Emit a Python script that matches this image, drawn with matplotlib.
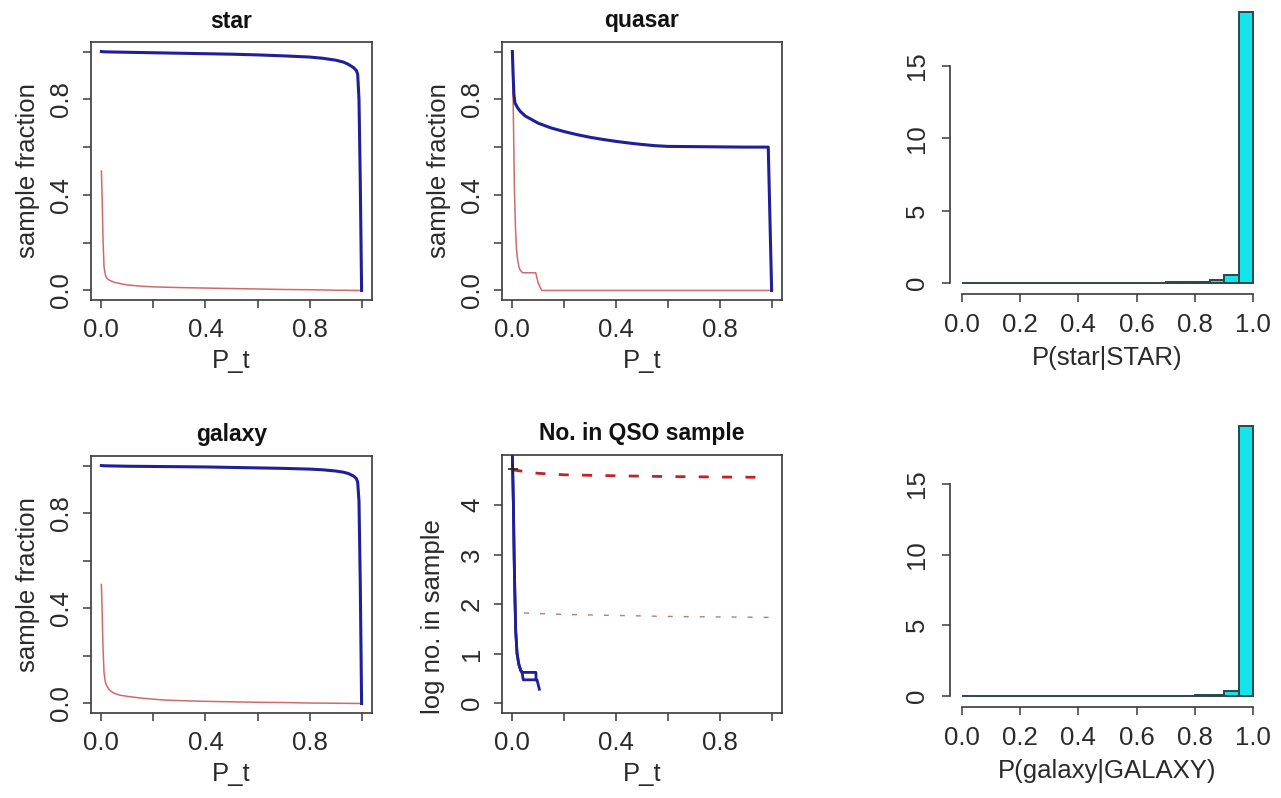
import numpy as np
import matplotlib
matplotlib.use("Agg")
import matplotlib.pyplot as plt

plt.rcParams['font.family'] = ['Liberation Sans', 'DejaVu Sans']

# ---------------- data ----------------
star_x_blue = [0.0, 0.01, 0.05, 0.1, 0.2, 0.3, 0.4, 0.5, 0.6, 0.7, 0.8, 0.85, 0.9, 0.93, 0.95, 0.97, 0.98, 0.985, 0.99, 0.995, 1.0]
star_blue = [1.0, 0.999, 0.998, 0.997, 0.995, 0.993, 0.991, 0.989, 0.986, 0.982, 0.977, 0.972, 0.964, 0.956, 0.946, 0.932, 0.92, 0.905, 0.8, 0.45, 0.0]
star_x_red = [0.0, 0.003, 0.006, 0.01, 0.015, 0.02, 0.03, 0.05, 0.08, 0.1, 0.15, 0.2, 0.3, 0.4, 0.5, 0.6, 0.7, 0.8, 0.9, 1.0]
star_red = [0.5, 0.38, 0.22, 0.1, 0.065, 0.052, 0.043, 0.034, 0.027, 0.023, 0.018, 0.015, 0.012, 0.01, 0.008, 0.006, 0.004, 0.003, 0.001, 0.0]

quasar_x_blue = [0.0, 0.003, 0.006, 0.01, 0.02, 0.03, 0.05, 0.08, 0.1, 0.15, 0.2, 0.25, 0.3, 0.35, 0.4, 0.45, 0.5, 0.55, 0.6, 0.7, 0.8, 0.9, 0.987, 1.0]
quasar_blue = [1.0, 0.9, 0.82, 0.785, 0.765, 0.75, 0.73, 0.712, 0.70, 0.68, 0.665, 0.652, 0.641, 0.632, 0.624, 0.617, 0.611, 0.606, 0.603, 0.602, 0.601, 0.600, 0.600, 0.0]
quasar_x_red = [0.0, 0.004, 0.008, 0.012, 0.016, 0.02, 0.025, 0.03, 0.04, 0.06, 0.09, 0.1, 0.113, 0.2, 0.5, 1.0]
quasar_red = [1.0, 0.72, 0.42, 0.26, 0.17, 0.13, 0.1, 0.085, 0.074, 0.074, 0.074, 0.03, 0.0, 0.0, 0.0, 0.0]

galaxy_x_blue = [0.0, 0.01, 0.05, 0.1, 0.2, 0.3, 0.4, 0.5, 0.6, 0.7, 0.8, 0.85, 0.9, 0.93, 0.95, 0.97, 0.98, 0.985, 0.99, 0.995, 1.0]
galaxy_blue = [1.0, 0.999, 0.998, 0.997, 0.996, 0.995, 0.994, 0.992, 0.99, 0.988, 0.985, 0.982, 0.977, 0.972, 0.966, 0.955, 0.945, 0.93, 0.85, 0.5, 0.0]
galaxy_x_red = [0.0, 0.003, 0.006, 0.01, 0.015, 0.02, 0.03, 0.045, 0.07, 0.1, 0.12, 0.15, 0.2, 0.25, 0.3, 0.4, 0.5, 0.6, 0.7, 0.8, 0.9, 1.0]
galaxy_red = [0.5, 0.38, 0.24, 0.13, 0.09, 0.075, 0.058, 0.045, 0.035, 0.03, 0.027, 0.023, 0.018, 0.014, 0.012, 0.009, 0.007, 0.005, 0.004, 0.002, 0.001, 0.0]

qso_x_blue_a = [0.0, 0.002, 0.004, 0.007, 0.01, 0.013, 0.018, 0.025, 0.032, 0.04, 0.065, 0.091, 0.091]
qso_blue_a = [5.0, 4.5, 4.0, 2.9, 2.1, 1.45, 1.0, 0.78, 0.66, 0.62, 0.62, 0.62, 0.47]
qso_x_blue_b = [0.0, 0.002, 0.004, 0.007, 0.01, 0.013, 0.018, 0.025, 0.032, 0.038, 0.042, 0.07, 0.095, 0.104]
qso_blue_b = [5.0, 4.5, 4.0, 2.9, 2.1, 1.45, 1.0, 0.78, 0.66, 0.6, 0.47, 0.47, 0.47, 0.28]
qso_x_red_total = [0.0, 0.1, 0.2, 0.4, 0.6, 0.8, 0.955]
qso_red_total = [4.71, 4.64, 4.61, 4.59, 4.575, 4.565, 4.56]
qso_x_red_cont = [0.045, 0.2, 0.4, 0.6, 0.8, 0.99]
qso_red_cont = [1.82, 1.79, 1.77, 1.75, 1.74, 1.73]
qso_x_mark = [0.004]
qso_mark = [4.72]

bin_edges = [0.0, 0.05, 0.1, 0.15, 0.2, 0.25, 0.3, 0.35, 0.4, 0.45, 0.5, 0.55, 0.6, 0.65, 0.7, 0.75, 0.8, 0.85, 0.9, 0.95, 1.0]
star_density = [0.01, 0.01, 0.01, 0.01, 0.01, 0.01, 0.01, 0.01, 0.01, 0.01, 0.01, 0.01, 0.02, 0.03, 0.04, 0.06, 0.1, 0.18, 0.58, 18.75]
galaxy_density = [0.005, 0.005, 0.005, 0.005, 0.005, 0.005, 0.005, 0.005, 0.005, 0.005, 0.005, 0.01, 0.01, 0.015, 0.02, 0.03, 0.05, 0.08, 0.35, 19.1]

# ---------------- layout ----------------
W, H = 1281, 798
fig = plt.figure(figsize=(W / 100, H / 100), dpi=100)

def rect(x0, x1, y0, y1):
    return [x0 / W, 1 - y1 / H, (x1 - x0) / W, (y1 - y0) / H]

FS = 18.5
TFS = 16.5
FRAME = '#3a3a3a'
BLUE = '#1f1f9a'
RED = '#d06a6a'
TXT = '#2a2a2a'

def style_box(ax, xlim, ylim, yticks, yticklabels):
    ax.set_xlim(*xlim)
    ax.set_ylim(*ylim)
    ax.set_xticks([0.0, 0.2, 0.4, 0.6, 0.8, 1.0])
    ax.set_xticklabels(['0.0', '', '0.4', '', '0.8', ''])
    ax.set_yticks(yticks)
    ax.set_yticklabels(yticklabels)
    for s in ax.spines.values():
        s.set_color(FRAME)
        s.set_linewidth(1.2)
    ax.tick_params(direction='out', length=6, width=1.1, color=FRAME,
                   labelsize=FS, labelcolor=TXT)
    ax.tick_params(axis='x', pad=7)
    ax.tick_params(axis='y', pad=7)
    for lab in ax.get_yticklabels():
        lab.set_rotation(90)
        lab.set_va('center')

def frac_panel(x0, x1, y0, y1, xb, yb, xr, yr, title):
    ax = fig.add_axes(rect(x0, x1, y0, y1))
    ax.plot(xr, yr, color=RED, lw=1.1)
    ax.plot(xb, yb, color=BLUE, lw=2.2)
    style_box(ax, (-0.04, 1.04), (-0.04, 1.04),
              [0.0, 0.2, 0.4, 0.6, 0.8, 1.0], ['0.0', '', '0.4', '', '0.8', ''])
    cx = (x0 + x1) / 2
    fig.text(cx / W, 1 - (y0 - 21) / H, title, ha='center', va='center',
             fontsize=TFS, fontweight='bold', color='#111111')
    fig.text(cx / W, 1 - (y1 + 61) / H, 'P_t', ha='center', va='center',
             fontsize=FS, color=TXT)
    fig.text((x0 - 63) / W, 1 - ((y0 + y1) / 2) / H, 'sample fraction',
             rotation=90, ha='center', va='center', fontsize=FS, color=TXT)
    return ax

frac_panel(91, 372, 42, 300, star_x_blue, star_blue, star_x_red, star_red, 'star')
frac_panel(502, 782, 42, 300, quasar_x_blue, quasar_blue, quasar_x_red, quasar_red, 'quasar')
frac_panel(91, 372, 456, 713, galaxy_x_blue, galaxy_blue, galaxy_x_red, galaxy_red, 'galaxy')

# QSO counts panel
x0, x1, y0, y1 = 502, 782, 455, 713
ax = fig.add_axes(rect(x0, x1, y0, y1))
ax.plot(qso_x_red_cont, qso_red_cont, color='#b87a7a', lw=1.0, linestyle=(0, (3.6, 7.9)))
ax.plot(qso_x_red_total, qso_red_total, color='#c4202a', lw=2.0, linestyle=(0, (3.6, 4.8)))
ax.plot(qso_x_blue_a, qso_blue_a, color=BLUE, lw=2.0)
ax.plot(qso_x_blue_b, qso_blue_b, color=BLUE, lw=2.0)
ax.plot(qso_x_mark, qso_mark, linestyle='none', marker='+', color='#222222',
        markersize=7, markeredgewidth=1.2)
style_box(ax, (-0.04, 1.04), (-0.2, 5.01), [0, 1, 2, 3, 4], ['0', '1', '2', '3', '4'])
cx = (x0 + x1) / 2
fig.text(cx / W, 1 - (y0 - 22) / H, 'No. in QSO sample', ha='center', va='center',
         fontsize=TFS, fontweight='bold', color='#111111')
fig.text(cx / W, 1 - (y1 + 61) / H, 'P_t', ha='center', va='center',
         fontsize=FS, color=TXT)
fig.text((x0 - 69) / W, 1 - 617 / H, 'log no. in sample', rotation=90,
         ha='center', va='center', fontsize=FS, color=TXT)

# histograms
def hist_panel(y_top, y_axis, ylim, dens, xlabel):
    ax = fig.add_axes(rect(950, 1265, y_top, y_axis))
    widths = np.diff(bin_edges)
    ax.bar(bin_edges[:-1], dens, width=widths, align='edge', color='#12e6ec',
           edgecolor='#2a4848', linewidth=1.4)
    ax.set_xlim(-0.04, 1.04)
    ax.set_ylim(*ylim)
    for s in ['top', 'right']:
        ax.spines[s].set_visible(False)
    ax.spines['left'].set_bounds(0, 15)
    ax.spines['bottom'].set_bounds(0, 1)
    for s in ['left', 'bottom']:
        ax.spines[s].set_color(FRAME)
        ax.spines[s].set_linewidth(1.2)
    ax.set_xticks([0.0, 0.2, 0.4, 0.6, 0.8, 1.0])
    ax.set_xticklabels(['0.0', '0.2', '0.4', '0.6', '0.8', '1.0'])
    ax.set_yticks([0, 5, 10, 15])
    ax.set_yticklabels(['0', '5', '10', '15'])
    ax.tick_params(direction='out', length=6, width=1.1, color=FRAME,
                   labelsize=FS, labelcolor=TXT)
    ax.tick_params(axis='x', pad=8)
    ax.tick_params(axis='y', pad=9)
    for lab in ax.get_yticklabels():
        lab.set_rotation(90)
        lab.set_va('center')
    fig.text(1107 / W, 1 - (y_axis + 64) / H, xlabel, ha='center', va='center',
             fontsize=FS, color=TXT)

hist_panel(0, 294, (-0.76, 19.57), star_density, 'P(star|STAR)')
hist_panel(415, 707, (-0.78, 19.88), galaxy_density, 'P(galaxy|GALAXY)')

fig.savefig('out.png', dpi=100)
